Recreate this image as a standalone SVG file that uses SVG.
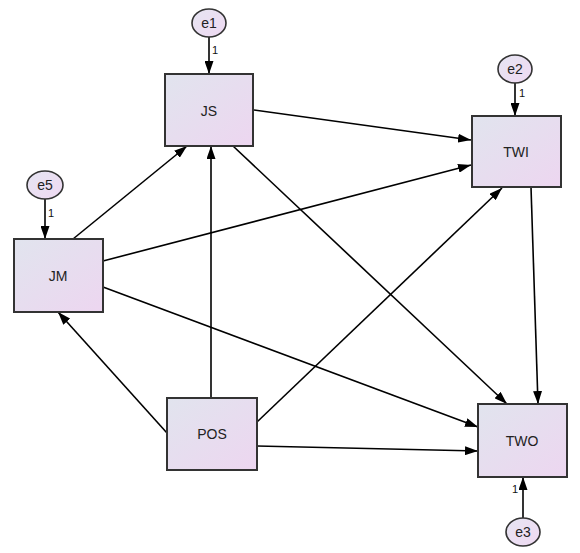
<svg xmlns="http://www.w3.org/2000/svg" width="580" height="553" viewBox="0 0 580 553">
<defs>
<linearGradient id="boxg" x1="0" y1="0" x2="1" y2="1">
<stop offset="0" stop-color="#e1e4ee"/>
<stop offset="1" stop-color="#edd6f0"/>
</linearGradient>
<linearGradient id="ellg" x1="0" y1="0" x2="1" y2="1">
<stop offset="0" stop-color="#e6e5f2"/>
<stop offset="1" stop-color="#efd9f2"/>
</linearGradient>
<marker id="arr" markerUnits="userSpaceOnUse" markerWidth="13" markerHeight="9" refX="13" refY="4.5" orient="auto">
<path d="M0,0 L13,4.5 L0,9 z" fill="#000"/>
</marker>
<style>
.box{fill:url(#boxg);stroke:#333;stroke-width:2}
.ell{fill:url(#ellg);stroke:#333;stroke-width:1.6}
.lbl{font-family:"Liberation Sans",Arial,sans-serif;font-size:14px;fill:#222;text-anchor:middle;dominant-baseline:central}
.one{font-family:"Liberation Sans",Arial,sans-serif;font-size:11px;fill:#111}
.c{stroke:#000;stroke-width:1.6;fill:none;marker-end:url(#arr)}
</style>
</defs>
<rect width="580" height="553" fill="#fff"/>
<g id="connectors">
<line class="c" x1="209" y1="37" x2="209" y2="74"/>
<line class="c" x1="45" y1="199" x2="45" y2="239"/>
<line class="c" x1="515" y1="83" x2="515" y2="116"/>
<line class="c" x1="523" y1="518" x2="523" y2="477"/>
<line class="c" x1="73" y1="239" x2="187" y2="146"/>
<line class="c" x1="254" y1="110" x2="471" y2="140"/>
<line class="c" x1="103" y1="261" x2="471" y2="165"/>
<line class="c" x1="233" y1="146" x2="507" y2="404"/>
<line class="c" x1="103" y1="287" x2="478" y2="427"/>
<line class="c" x1="167" y1="433" x2="58" y2="312"/>
<line class="c" x1="211" y1="398" x2="211" y2="146"/>
<line class="c" x1="257" y1="422" x2="502" y2="188"/>
<line class="c" x1="257" y1="446" x2="478" y2="451"/>
<line class="c" x1="531" y1="187" x2="538" y2="404"/>
<text class="one" x="212" y="54">1</text>
<text class="one" x="48" y="217">1</text>
<text class="one" x="519" y="97">1</text>
<text class="one" x="512" y="493">1</text>
</g>
<g id="e1"><ellipse class="ell" cx="209" cy="23" rx="17" ry="14"/><text class="lbl" x="209" y="23">e1</text></g>
<g id="e5"><ellipse class="ell" cx="45" cy="185" rx="18" ry="14"/><text class="lbl" x="45" y="185">e5</text></g>
<g id="e2"><ellipse class="ell" cx="515" cy="69" rx="17" ry="14"/><text class="lbl" x="515" y="69">e2</text></g>
<g id="e3"><ellipse class="ell" cx="523" cy="532" rx="17" ry="14"/><text class="lbl" x="523" y="532">e3</text></g>
<g id="JS"><rect class="box" x="165" y="74" width="88" height="72"/><text class="lbl" x="209" y="111">JS</text></g>
<g id="JM"><rect class="box" x="14" y="239" width="89" height="73"/><text class="lbl" x="58" y="276">JM</text></g>
<g id="TWI"><rect class="box" x="472" y="116" width="89" height="71"/><text class="lbl" x="516" y="152">TWI</text></g>
<g id="TWO"><rect class="box" x="478" y="404" width="89" height="73"/><text class="lbl" x="522" y="441">TWO</text></g>
<g id="POS"><rect class="box" x="167" y="398" width="90" height="72"/><text class="lbl" x="212" y="434">POS</text></g>
</svg>
